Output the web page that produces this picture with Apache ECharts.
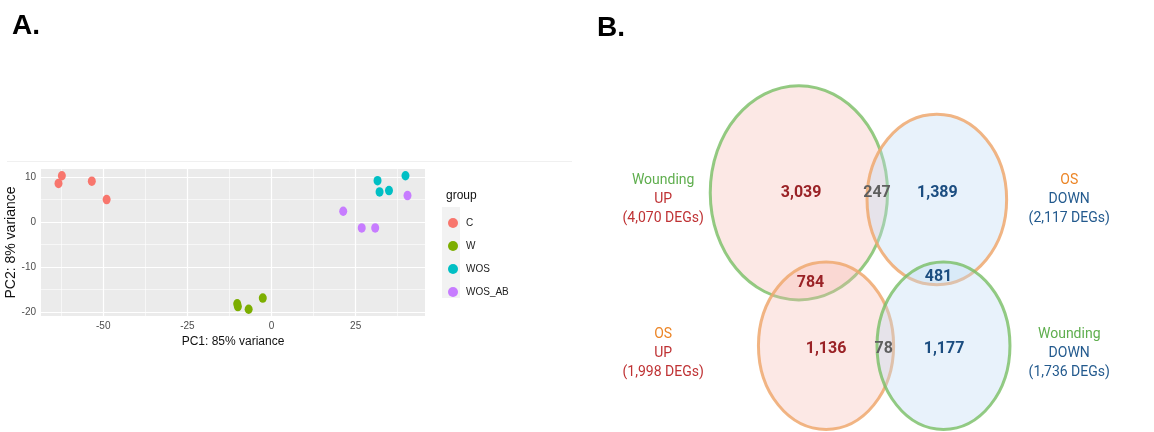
<!DOCTYPE html>
<html>
<head>
<meta charset="utf-8">
<title>PCA and DEG Venn</title>
<script src="https://cdn.jsdelivr.net/npm/echarts@6.0.0/dist/echarts.min.js"></script>
<style>
  html, body { margin: 0; padding: 0; background: #fff; }
  #main { width: 1154px; height: 432px; }
</style>
</head>
<body>
<div id="main"></div>
<script>
// ---- panel A: PCA points (PC1, PC2) ----
const groups = ['C', 'W', 'WOS', 'WOS_AB'];
const pointsC = [[-63.3, 8.6], [-62.3, 10.3], [-53.4, 9.1], [-49.0, 5.0]];
const pointsW = [[-10.2, -18.2], [-10.0, -18.8], [-6.8, -19.4], [-2.6, -16.9]];
const pointsWOS = [[31.5, 9.2], [32.1, 6.7], [34.9, 7.0], [39.8, 10.3]];
const pointsWOSAB = [[21.3, 2.4], [26.8, -1.3], [30.8, -1.3], [40.4, 5.9]];
const xTicks = [-50, -25, 0, 25];
const xMinor = [-62.5, -37.5, -12.5, 12.5, 37.5];
const yTicks = [-20, -10, 0, 10];
const yMinor = [-15, -5, 5];

// ---- panel B: Venn counts ----
const setTreatment = ['Wounding', 'OS', 'OS', 'Wounding'];
const setDirection = ['UP', 'DOWN', 'UP', 'DOWN'];
const setTotals = [4070, 2117, 1998, 1736];
const regionCounts = [3039, 247, 1389, 784, 481, 1136, 78, 1177];
const regionKind = ['up', 'mix', 'down', 'up', 'down', 'up', 'mix', 'down'];

// layout of the venn in its own axis units (0..100 each way)
const ellipseLayout = [
  // cx, cy, rx, ry, fill, stroke
  [35.9, 64.3, 16.0, 28.8, 'pink', 'green'],
  [60.8, 62.5, 12.6, 22.9, 'blue', 'orange'],
  [40.8, 23.2, 12.2, 22.5, 'pink', 'orange'],
  [62.0, 23.2, 12.0, 22.5, 'blue', 'green']
];
const regionLayout = [
  [36.3, 64.3], [50.0, 64.3], [60.9, 64.3], [38.0, 40.1],
  [61.1, 41.6], [40.8, 22.4], [51.2, 22.4], [62.1, 22.4]
];
const setLabelLayout = [[11.4, 62.5], [84.7, 62.5], [11.4, 21.2], [84.7, 21.2]];

const groupColors = ['#F8766D', '#7CAE00', '#00BFC4', '#C77CFF'];
const fills = { pink: 'rgba(245,185,175,0.32)', blue: 'rgba(190,220,245,0.36)' };
const strokes = { green: 'rgba(120,190,100,0.80)', orange: 'rgba(238,168,110,0.85)' };
const regionColors = { up: '#9A2226', down: '#1B4D80', mix: '#5F5F5F' };
const treatColors = { Wounding: '#5FAE4E', OS: '#EC8526' };
const dirColors = { UP: '#BF3234', DOWN: '#235A8E' };

const fmt = v => v.toLocaleString('en-US');

const chart = echarts.init(document.getElementById('main'));

const pcaSeries = [pointsC, pointsW, pointsWOS, pointsWOSAB].map((pts, i) => ({
  name: groups[i],
  type: 'scatter',
  xAxisIndex: 0,
  yAxisIndex: 0,
  z: 3,
  symbol: 'circle',
  symbolSize: [8, 9.5],
  itemStyle: { color: groupColors[i], opacity: 1 },
  data: pts
}));

function gridLines(name, xs, ys, width) {
  return {
    name: name,
    type: 'scatter',
    xAxisIndex: 0,
    yAxisIndex: 0,
    data: [],
    z: 1,
    markLine: {
      silent: true,
      z: 1,
      animation: false,
      symbol: ['none', 'none'],
      label: { show: false },
      lineStyle: { color: '#ffffff', width: width, type: 'solid' },
      data: xs.map(v => ({ xAxis: v })).concat(ys.map(v => ({ yAxis: v })))
    }
  };
}

const option = {
  animation: false,
  backgroundColor: '#ffffff',
  textStyle: { fontFamily: 'Liberation Sans' },
  title: [
    { text: 'A.', left: 7, top: 7, textStyle: { fontSize: 28, fontWeight: 'bold', color: '#000', fontFamily: 'Liberation Sans' } },
    { text: 'B.', left: 592, top: 9, textStyle: { fontSize: 28, fontWeight: 'bold', color: '#000', fontFamily: 'Liberation Sans' } },
    { text: 'group', left: 441, top: 185, textStyle: { fontSize: 12, fontWeight: 'normal', color: '#111', fontFamily: 'Liberation Sans' } }
  ],
  legend: {
    data: groups,
    orient: 'vertical',
    left: 443,
    top: 213,
    icon: 'circle',
    itemWidth: 10,
    itemHeight: 10,
    itemGap: 13,
    selectedMode: false,
    textStyle: { fontSize: 10, color: '#222', lineHeight: 10, padding: [0, 0, 0, 3], fontFamily: 'Liberation Sans' }
  },
  graphic: [
    { type: 'line', shape: { x1: 7, y1: 161.5, x2: 572, y2: 161.5 }, style: { stroke: '#F0F0F0', lineWidth: 1 }, z: -1 },
    { type: 'rect', shape: { x: 442, y: 207, width: 18, height: 91 }, style: { fill: '#F2F2F2' }, z: -1 }
  ],
  grid: [
    { left: 41, top: 169, width: 384, height: 147, show: true, backgroundColor: '#EBEBEB', borderWidth: 0 },
    { left: 600, top: 60, width: 554, height: 372, show: false }
  ],
  xAxis: [
    {
      gridIndex: 0, type: 'value', min: -68.5, max: 45.6,
      name: 'PC1: 85% variance', nameLocation: 'middle', nameGap: 20,
      nameTextStyle: { fontSize: 12, color: '#111' },
      axisLine: { show: false },
      axisTick: { show: true, length: 3, customValues: xTicks, lineStyle: { color: '#333' } },
      axisLabel: { customValues: xTicks, fontSize: 10, color: '#4D4D4D', margin: 5 },
      splitLine: { show: false }
    },
    { gridIndex: 1, type: 'value', min: 0, max: 100, show: false, splitLine: { show: false } }
  ],
  yAxis: [
    {
      gridIndex: 0, type: 'value', min: -20.9, max: 11.8,
      name: 'PC2: 8% variance', nameLocation: 'middle', nameGap: 20,
      nameTextStyle: { fontSize: 14, color: '#111' },
      axisLine: { show: false },
      axisTick: { show: true, length: 3, customValues: yTicks, lineStyle: { color: '#333' } },
      axisLabel: { customValues: yTicks, fontSize: 10, color: '#4D4D4D', margin: 5 },
      splitLine: { show: false }
    },
    { gridIndex: 1, type: 'value', min: 0, max: 100, show: false, splitLine: { show: false } }
  ],
  series: [
    gridLines('minor', xMinor, yMinor, 0.6),
    gridLines('major', xTicks, yTicks, 1.2)
  ].concat(pcaSeries).concat([
    {
      name: 'venn',
      type: 'custom',
      xAxisIndex: 1,
      yAxisIndex: 1,
      silent: true,
      data: ellipseLayout.map(e => e.slice(0, 4)),
      renderItem: function (params, api) {
        const e = ellipseLayout[params.dataIndex];
        const c = api.coord([api.value(0), api.value(1)]);
        const s = api.size([api.value(2), api.value(3)]);
        return {
          type: 'ellipse',
          shape: { cx: c[0], cy: c[1], rx: s[0], ry: s[1] },
          style: { fill: fills[e[4]], stroke: strokes[e[5]], lineWidth: 3 }
        };
      }
    },
    {
      name: 'regions',
      type: 'scatter',
      xAxisIndex: 1,
      yAxisIndex: 1,
      symbolSize: 1,
      silent: true,
      z: 5,
      itemStyle: { opacity: 1, color: 'transparent' },
      data: regionCounts.map((v, i) => ({
        value: regionLayout[i],
        label: { color: regionColors[regionKind[i]] },
        name: fmt(v)
      })),
      label: {
        show: true,
        position: 'inside',
        opacity: 1,
        formatter: p => p.name,
        fontFamily: 'Roboto',
        fontWeight: 'bold',
        fontSize: 16,
        textBorderWidth: 0,
        textBorderColor: 'transparent'
      }
    },
    {
      name: 'sets',
      type: 'scatter',
      xAxisIndex: 1,
      yAxisIndex: 1,
      symbolSize: 1,
      silent: true,
      z: 5,
      itemStyle: { opacity: 1, color: 'transparent' },
      data: setTotals.map((v, i) => ({
        value: setLabelLayout[i],
        name: i,
        label: {
          formatter: '{t|' + setTreatment[i] + '}\n{d|' + setDirection[i] + '}\n{d|(' + fmt(v) + ' DEGs)}',
          rich: {
            t: { color: treatColors[setTreatment[i]], fontSize: 14, lineHeight: 19, fontFamily: 'Roboto', align: 'center', textBorderWidth: 0 },
            d: { color: dirColors[setDirection[i]], fontSize: 14, lineHeight: 19, fontFamily: 'Roboto', align: 'center', textBorderWidth: 0 }
          }
        }
      })),
      label: { show: true, position: 'inside', opacity: 1, align: 'center', verticalAlign: 'middle', textBorderWidth: 0, textBorderColor: 'transparent' }
    }
  ])
};

chart.setOption(option);
</script>
</body>
</html>
